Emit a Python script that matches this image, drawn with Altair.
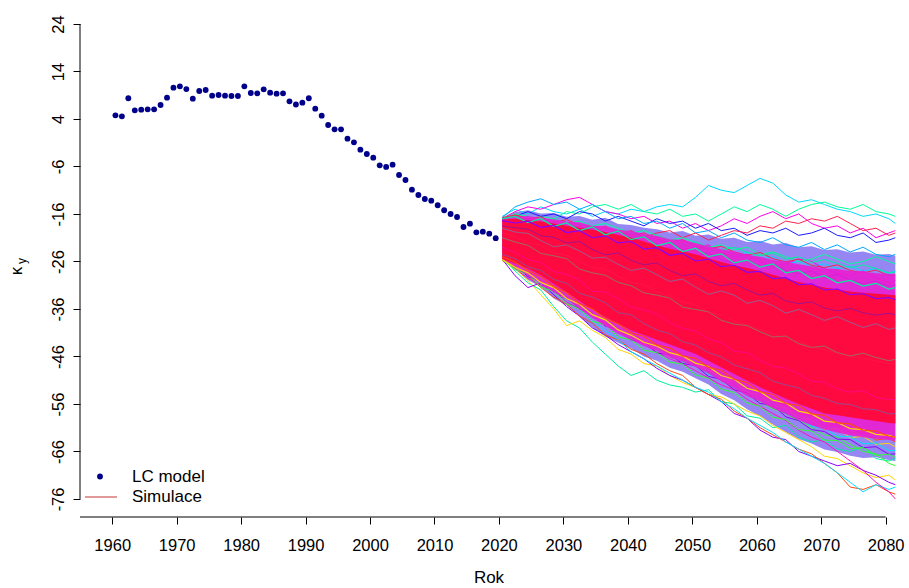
import altair as alt
import pandas as pd

# ---------------- data ----------------
LC_YEARS = list(range(1960, 2020))
LC_VALUES = [4.77, 4.56, 8.36, 5.83, 5.97, 6.04, 6.04, 6.95, 8.49, 10.6,
             10.88, 10.3, 8.28, 9.9, 10.1, 8.91, 9.05, 8.91, 8.84, 8.84,
             10.88, 9.47, 9.4, 10.25, 9.54, 9.33, 9.4, 7.72, 7.05, 7.44,
             8.36, 6.18, 4.7, 2.74, 1.83, 1.83, -0.15, -0.91, -2.46, -3.37,
             -4.14, -5.75, -6.1, -5.61, -7.79, -8.84, -10.88, -12.0, -12.84, -13.2,
             -14.17, -15.22, -16.0, -16.63, -18.74, -18.04, -19.86, -19.72, -20.14, -21.1]

SIM_YEARS = list(range(2020, 2081, 2)) + [2081]

# density bands of the simulated paths (outer mixed colours, magenta, red core)
MIX_HI = [-16.8, -15.6, -15.2, -15.9, -15.8, -16.6, -16.4, -17.2, -16.8, -18.1, -18.3, -18.9, -19.2, -19.9, -19.6, -20.6,
          -20.3, -21.2, -21.0, -21.9, -21.7, -22.4, -22.1, -23.0, -22.8, -23.6, -23.4, -24.1, -23.9, -24.6, -24.4, -24.8]
MIX_LO = [-25.8, -27.6, -29.9, -31.4, -33.8, -35.2, -37.6, -39.9, -41.8, -43.1, -44.3, -46.0, -46.9, -48.4, -49.2, -50.6,
          -51.9, -53.9, -55.2, -57.1, -58.6, -60.3, -61.9, -63.4, -64.3, -65.6, -66.1, -66.9, -67.4, -67.2, -67.8, -68.0]
MAG_HI = [-17.0, -16.6, -16.4, -16.9, -17.1, -17.6, -17.8, -18.5, -18.6, -19.3, -19.6, -20.2, -20.6, -21.3, -21.5, -22.1,
          -22.8, -23.4, -23.9, -24.6, -25.0, -25.7, -26.0, -26.6, -27.0, -27.5, -27.6, -28.0, -28.1, -28.5, -28.6, -28.8]
MAG_LO = [-25.6, -27.2, -29.0, -30.6, -32.5, -34.0, -36.0, -37.9, -39.6, -41.2, -42.5, -43.8, -44.8, -46.2, -47.1, -48.2,
          -49.6, -51.2, -52.7, -54.3, -55.5, -56.9, -58.1, -59.4, -60.5, -61.4, -62.0, -62.6, -63.0, -63.3, -63.6, -63.8]
RED_HI = [-17.2, -17.0, -17.3, -17.6, -18.0, -18.5, -18.9, -19.3, -19.8, -20.4, -21.0, -21.8, -22.6, -23.3, -23.9, -24.5,
          -25.3, -26.1, -26.8, -27.4, -28.0, -28.8, -29.6, -30.3, -30.9, -31.5, -31.9, -32.3, -32.6, -32.8, -33.0, -33.1]
RED_LO = [-25.5, -26.4, -27.5, -28.9, -30.7, -32.5, -34.3, -36.1, -37.7, -39.1, -40.5, -41.5, -42.5, -43.5, -44.5, -45.5,
          -46.9, -48.3, -49.7, -51.1, -52.5, -53.7, -54.9, -56.0, -57.0, -58.0, -58.4, -58.8, -59.2, -59.6, -60.0, -60.1]

# individual simulated paths (estimated); outer fringe + transition zones
OUTER = {
    "T1": ("#00D8FF", [-16.5, -15, -16, -14.5, -15.5, -16, -15, -16.5, -15.5, -16, -15, -15.5, -14.5, -14, -14.5, -12.5,
                       -10, -11, -11.5, -10, -8.5, -9.5, -12, -13.5, -13, -14, -15, -15.5, -16.5, -16, -17, -18]),
    "T2": ("#FF00E6", [-17, -15.5, -14.5, -15, -14, -13, -12.5, -14, -15.5, -16, -17, -16.5, -18, -17.5, -19, -18,
                       -19.5, -18.5, -17, -18, -16.5, -15.5, -17, -16, -18, -19, -18.5, -20, -19, -21, -20, -19.5]),
    "T3": ("#00FF9A", [-17.5, -16, -17.5, -16.5, -17, -15.5, -16, -14.5, -14, -15, -14, -15.5, -16, -15, -16.5, -16,
                       -17.5, -16, -14.5, -15.5, -14, -15, -16.5, -15, -14, -13.5, -14.5, -15, -14, -15.5, -16, -16.5]),
    "T4": ("#1A1AFF", [-17, -16.5, -15.5, -16.5, -16, -17, -15.5, -16, -17.5, -16.5, -17.5, -18.5, -17, -18, -17.5, -19,
                       -18, -19.5, -19, -20.5, -19.5, -20, -19, -20.5, -20, -19, -20.5, -21, -20, -22, -21.5, -21]),
    "T5": ("#00A8FF", [-16.8, -14.5, -13.5, -12.8, -14, -13.5, -15, -14, -15.5, -17, -16.5, -18, -17.5, -19, -18, -20,
                       -19.5, -21, -20, -21.5, -22, -21, -22.5, -23, -22, -23.5, -22.5, -24, -23, -24.5, -25, -24.5]),
    "T6": ("#FF2050", [-17.2, -16.2, -17, -18, -17.5, -19, -18.5, -20, -19, -20.5, -19.5, -21, -20, -19.5, -21, -20,
                       -21.5, -20.5, -19.5, -20, -18.5, -19, -17.5, -18, -17, -17.5, -16.5, -18, -19.5, -19, -20.5, -20]),
    "B1": ("#00F0A0", [-25, -28, -30.5, -32, -35.5, -38.5, -40, -43, -45.5, -48, -50, -49, -51, -52, -52.5, -53.5,
                       -53, -55.5, -56, -58.5, -59, -61, -60.5, -63, -64, -63.5, -65.5, -66, -65, -67.5, -68, -67.5]),
    "B2": ("#FFD700", [-25.5, -27.5, -30, -33, -36, -39.5, -38.5, -40.5, -42, -44.5, -45.5, -47.5, -48, -50, -51.5, -52.5,
                       -54, -54.5, -56, -57.5, -58.5, -60.5, -62, -63.5, -65, -67, -67.5, -69, -70.5, -71.5, -71, -72]),
    "B3": ("#8A00FF", [-25.5, -29, -31.5, -30.5, -33, -35.5, -37.5, -40, -41.5, -43.5, -45, -46.5, -48.5, -50, -51, -52.5,
                       -54, -55.5, -58, -59, -61.5, -63, -63.5, -66, -67, -68, -69, -68.5, -70, -71, -72.5, -73]),
    "B4": ("#FF4A10", [-25.8, -27, -29, -31.5, -33.5, -35, -37.5, -39, -41.5, -42.5, -44.5, -45.5, -47.5, -49, -50, -52.5,
                       -54, -55, -57.5, -59, -61, -62.5, -64, -65.5, -66.5, -68.5, -70.5, -73.5, -74, -73, -74.5, -75]),
    "B5": ("#00E0FF", [-25.2, -26.5, -28.5, -30, -32.5, -34, -36, -38.5, -40.5, -42.5, -45, -46.5, -48, -49.5, -51, -52.5,
                       -53.5, -55.5, -57, -59, -60.5, -62, -64, -65.5, -67, -68.5, -70.5, -72.5, -74.5, -73, -74, -73.5]),
    "B6": ("#FF10C0", [-25, -27.5, -29.5, -31, -32, -34.5, -36, -37, -39, -40.5, -42, -43.5, -45, -46.5, -47.5, -49,
                       -50.5, -52, -53, -55, -56.5, -58, -59.5, -61.5, -63, -64, -66, -68, -70, -72.5, -74.5, -76]),
    "B7": ("#30FF30", [-24.5, -26, -28, -29.5, -31, -33, -34, -36, -37.5, -39.5, -41, -42.5, -44, -45.5, -47, -48,
                       -49.5, -51, -52.5, -54, -55.5, -57, -58, -59.5, -61, -62.5, -63, -64.5, -66, -66.5, -68.5, -69]),
}
INNER = {
    "U1": ("#0026FF", [-17.5, -17, -18, -17.5, -18.5, -18, -19.5, -19, -20.5, -20, -21.5, -21, -22.5, -22, -23, -22.5,
                       -24, -23.5, -25, -24, -25.5, -25, -26.5, -26, -27, -26.5, -27.5, -27, -28, -27.5, -28.5, -28]),
    "U2": ("#7A00FF", [-18, -17.5, -17, -18, -18.5, -19.5, -19, -20, -21, -20.5, -22, -21.5, -21, -22.5, -23.5, -23,
                       -22.5, -24, -25, -24.5, -26, -27, -26.5, -25.5, -26, -27.5, -28.5, -29, -28, -29.5, -30.5, -30]),
    "U3": ("#00C8FF", [-17, -16, -16.5, -17.5, -17, -18, -17.5, -18.5, -18, -19, -20, -19.5, -20.5, -21.5, -21, -22,
                       -23, -22.5, -23.5, -23, -24.5, -24, -25, -26, -25.5, -24.5, -25.5, -26.5, -26, -25, -26, -26.5]),
    "U4": ("#22FF44", [-17.2, -17.8, -17.3, -18.6, -18.2, -19, -20.3, -19.8, -20.8, -21.9, -21.2, -22.5, -23.6, -23, -24.2, -24.9,
                       -24.2, -25.6, -26.4, -25.8, -27.1, -26.5, -27.9, -28.6, -28, -29.4, -28.7, -29.9, -30.6, -30.1, -31.2, -31]),
    "U5": ("#FF00FF", [-17.5, -18.5, -18, -19, -19.8, -20.6, -21.8, -21.2, -22.5, -23.2, -24.4, -23.8, -25.1, -26.3, -25.7, -27,
                       -27.8, -27.2, -28.5, -29.3, -28.7, -30, -31.1, -30.5, -31.7, -32.4, -31.8, -33, -33.9, -33.2, -34.3, -34]),
    "U6": ("#1450FF", [-16.8, -16.2, -17, -16.6, -17.8, -17.2, -18.3, -19.1, -18.6, -19.8, -20.5, -20, -21.3, -22, -21.4, -22.7,
                       -23.4, -22.8, -24, -24.7, -24.1, -25.4, -26.1, -25.5, -26.8, -27.3, -26.7, -27.9, -28.4, -27.8, -29, -28.8]),
    "U7": ("#B0FF00", [-17, -16.8, -17.6, -17.1, -18, -18.8, -18.2, -19.3, -20, -19.4, -20.2, -21, -20.6, -21.8, -22.4, -21.9,
                       -23, -23.6, -23, -24.1, -24.8, -24.3, -25.5, -25, -26.2, -25.6, -26.4, -27.3, -26.7, -27.5, -28.4, -28.2]),
    "L1": ("#0030FF", [-25.2, -27.1, -27.9, -30.2, -31.1, -33.8, -34.6, -37.2, -38.1, -40.6, -41, -43.4, -43.7, -45.6, -46.1, -47.9,
                       -48.5, -50.8, -51.2, -53.6, -54.1, -56.3, -56.8, -58.9, -59.2, -61.3, -61.1, -63.1, -62.8, -64.5, -64.3, -65]),
    "L2": ("#9000FF", [-25.5, -26.6, -29.2, -30, -32.4, -33.5, -36, -37, -39.6, -40.3, -42.6, -42.8, -45.3, -45.6, -47.5, -47.9,
                       -50.2, -50.8, -53, -53.7, -55.9, -56.2, -58.7, -59.5, -61.4, -61.8, -63.4, -63.5, -65.2, -65, -66.6, -66.5]),
    "L3": ("#00E8F0", [-25, -26.7, -27.5, -30, -30.6, -33.4, -34.1, -37, -37.5, -40, -40.6, -43, -43, -45.2, -45.3, -47.4,
                       -47.7, -50, -50.6, -52.8, -53.2, -55.7, -56, -58.2, -58.3, -60.4, -60.5, -62, -61.9, -63.6, -63.2, -64]),
    "L4": ("#40FF20", [-25.3, -26.5, -28.9, -29.7, -32.2, -33.2, -35.7, -36.6, -38.7, -39.8, -42.1, -42.6, -44.9, -45, -47.1, -47.4,
                       -49.8, -50.3, -52.4, -53.1, -55.4, -55.7, -58.1, -58.7, -60.7, -61.1, -62.8, -62.9, -64.4, -64.2, -65.8, -65.8]),
    "L5": ("#FF00D0", [-25.4, -26, -28.4, -28.9, -31.6, -32.4, -35.2, -35.8, -38.4, -39, -41.4, -41.5, -43.9, -44.2, -45.9, -46.4,
                       -48.7, -49.1, -51.3, -51.8, -54.2, -54.6, -56.5, -57.1, -59, -59.4, -60.8, -60.8, -62.3, -62.1, -63.4, -63.3]),
    "L6": ("#FFE000", [-25.6, -27.7, -28.7, -31.4, -32.3, -34.9, -36, -38.6, -39.3, -41.9, -42.5, -44.7, -45.2, -47.2, -47.6, -49.9,
                       -50.6, -52.9, -53.6, -55.8, -56.5, -58.8, -59.3, -61.4, -61.7, -63.6, -63.7, -65.4, -65.2, -66.8, -66.6, -67.2]),
}
CORE = {
    "C1": ("#FF00A0", [-19, -19.8, -20.1, -21.6, -22.9, -22.5, -23.8, -25.3, -25.1, -26.6, -27.9, -27.4, -28.8, -30.2, -29.7, -31.4,
                       -32.9, -32.2, -33.1, -34.8, -34.2, -35.3, -36.9, -36.1, -37.2, -38.4, -37.6, -38.8, -39.9, -39.1, -40.3, -40]),
    "C2": ("#D000FF", [-23, -24.1, -25.6, -26.2, -28.1, -28.7, -29.9, -32.3, -32.4, -33.8, -35.6, -36.2, -37.1, -38.9, -40.1, -40.6,
                       -42.3, -43.1, -44.9, -45.2, -46.8, -48.1, -48.4, -49.7, -51.2, -51.4, -52.8, -53.5, -53.2, -54.6, -55.1, -55]),
    "C3": ("#FF0080", [-21, -21.9, -22.6, -24.3, -24.8, -25.4, -27.6, -28.4, -28.9, -30.4, -31.1, -32.6, -33.1, -33.7, -35.6, -36.1,
                       -36.6, -38.4, -39.2, -39.5, -40.8, -41.9, -41.7, -43.3, -44.1, -43.8, -45.2, -45.9, -45.3, -46.2, -46.9, -46.6]),
    "C4": ("#C000FF", [-18.5, -18.9, -19.2, -20.6, -20.9, -22.1, -21.8, -23.5, -24.6, -24.2, -25.8, -26.7, -26.3, -27.9, -29, -28.6,
                       -30.2, -31.1, -30.6, -32, -33.1, -32.7, -34.3, -34.9, -34.5, -35.8, -36.4, -35.9, -36.8, -37.3, -36.9, -37.2]),
    "C5": ("#FF00D0", [-24.5, -25.4, -27.1, -27.9, -29.8, -30.6, -32.7, -33.5, -34.7, -36.8, -37.2, -39.1, -40.4, -41.2, -42.9, -43.6,
                       -45.2, -46.1, -47.8, -48.6, -49.4, -51.2, -52, -52.6, -54.2, -54.8, -55.9, -56.1, -57, -57.2, -58.1, -58]),
    "C6": ("#8000FF", [-20, -20.8, -22.1, -22.6, -24.2, -24.7, -26.1, -27.3, -27.6, -29.1, -30.5, -30.9, -32.4, -33.2, -34.5, -35.1,
                       -36.7, -37.2, -38.6, -39.3, -40.4, -41.1, -42.5, -42.8, -44, -44.6, -45.3, -46, -46.4, -46.9, -47.5, -47.5]),
}
TOP_RED = {
    "R1": ("#FF0030", [-17, -16.5, -17.8, -17, -18.6, -17.9, -19.5, -18.7, -20.4, -19.6, -21.4, -20.8, -22.7, -22, -23.9, -23.2,
                       -25, -24.4, -26.3, -25.7, -27.2, -26.5, -28.4, -27.9, -29.6, -29, -30.5, -30, -31.2, -30.6, -31.8, -31.5]),
    "R2": ("#FF0050", [-25.6, -27.2, -28.4, -30.4, -31.5, -33.8, -35, -37.2, -38.3, -40.4, -41.5, -43, -43.8, -45.2, -45.9, -47.4,
                       -48.1, -50, -50.8, -52.7, -53.4, -55.2, -55.8, -57.5, -58.1, -59.6, -59.9, -61.2, -61.4, -62.4, -62.6, -63]),
    "R3": ("#FF1040", [-17.4, -17.9, -17.5, -18.8, -18.4, -19.9, -19.5, -21, -20.6, -22.1, -21.8, -23.4, -23.1, -24.7, -24.3, -25.9,
                       -25.5, -27.1, -26.8, -28.3, -28.1, -29.6, -29.4, -30.9, -30.7, -32, -31.8, -33, -32.8, -33.8, -33.6, -34]),
    "R4": ("#FF0020", [-25, -26.1, -27.9, -29.2, -31.3, -32.6, -34.9, -36, -38, -39.1, -41, -41.8, -43.6, -44.2, -45.9, -46.4,
                       -48.3, -48.9, -50.8, -51.5, -53.4, -54, -55.9, -56.3, -58.1, -58.4, -60, -60.2, -61.5, -61.7, -62.8, -63]),
}

X_TICKS = list(range(1960, 2081, 10))
Y_TICKS = list(range(-76, 25, 10))


def long_table(groups):
    rows = []
    for name, (colr, vals) in groups.items():
        for yr, v in zip(SIM_YEARS, vals):
            rows.append({"path": name, "year": yr, "k": v})
    return pd.DataFrame(rows)


lc = pd.DataFrame({"year": LC_YEARS, "k": LC_VALUES})
bands = pd.DataFrame({"year": SIM_YEARS, "mix_hi": MIX_HI, "mix_lo": MIX_LO,
                      "mag_hi": MAG_HI, "mag_lo": MAG_LO, "red_hi": RED_HI, "red_lo": RED_LO})

FONT = "Liberation Sans"
W, H = 825, 512
xs = alt.Scale(domain=[1955, 2083], nice=False, zero=False)
ys = alt.Scale(domain=[-79.8, 28], nice=False, zero=False)
AX_X = alt.Axis(values=X_TICKS, format="d", title=None, domain=False, grid=False,
                tickSize=7, tickColor="black", tickWidth=1, labelFont=FONT, labelFontSize=16.5,
                labelColor="black", labelPadding=13, labelFlush=False)
AX_Y = alt.Axis(values=Y_TICKS, title=None, domain=False, grid=False,
                labelExpr="toString(datum.value)",
                tickSize=7, tickColor="black", tickWidth=1, labelFont=FONT, labelFontSize=16.5,
                labelColor="black", labelAngle=270, labelAlign="center", labelBaseline="alphabetic",
                labelPadding=10, labelFlush=False)


def X(field="xm"):
    return alt.X(f"{field}:Q", scale=xs, axis=AX_X)


def Y(field):
    return alt.Y(f"{field}:Q", scale=ys, axis=AX_Y)


def path_layer(groups, width=1.0, opacity=1.0):
    names = list(groups.keys())
    cols = [groups[n][0] for n in names]
    return alt.Chart(long_table(groups)).transform_calculate(xm="datum.year + 0.5").mark_line(
        strokeWidth=width, opacity=opacity).encode(
        x=X(), y=Y("k"), detail="path:N",
        color=alt.Color("path:N", scale=alt.Scale(domain=names, range=cols), legend=None))


xaxis_line = alt.Chart(pd.DataFrame({"a": [1955], "b": [2080]})).mark_rule(color="black", strokeWidth=1).encode(
    x=X("a"), x2="b:Q", y=alt.value(H))
yaxis_line = alt.Chart(pd.DataFrame({"a": [24], "b": [-76]})).mark_rule(color="black", strokeWidth=1).encode(
    y=Y("a"), y2="b:Q", x=alt.value(0))

bandbase = alt.Chart(bands).transform_calculate(xm="datum.year + 0.5")
mix_area = bandbase.mark_area(color="#6c58ee", opacity=0.72).encode(x=X(), y=Y("mix_hi"), y2="mix_lo")
mag_area = bandbase.mark_area(color="#ea1ed2", opacity=0.9).encode(x=X(), y=Y("mag_hi"), y2="mag_lo")
red_area = bandbase.mark_area(color="#ff0a40").encode(x=X(), y=Y("red_hi"), y2="red_lo")

outer_lines = path_layer(OUTER)
inner_lines = path_layer(INNER)
core_lines = path_layer(CORE, 1.0, 0.4)
red_lines = path_layer(TOP_RED, 1.2)

points = alt.Chart(lc).transform_calculate(xm="datum.year + 0.5").mark_circle(
    size=34, color="#00008B", opacity=1).encode(x=X(), y=Y("k"))

# legend drawn by hand, like R's legend()
leg_dot = alt.Chart(pd.DataFrame({"a": [0]})).mark_circle(size=34, color="#00008B", opacity=1).encode(
    x=alt.value(20), y=alt.value(471.5))
leg_line = alt.Chart(pd.DataFrame({"a": [0]})).mark_rule(color="#cd5555", strokeWidth=1.2).encode(
    x=alt.value(5), x2=alt.value(37), y=alt.value(492))
leg_t1 = alt.Chart(pd.DataFrame({"t": ["LC model"]})).mark_text(
    font=FONT, fontSize=17, align="left", baseline="middle", color="black").encode(
    x=alt.value(52), y=alt.value(471.5), text="t:N")
leg_t2 = alt.Chart(pd.DataFrame({"t": ["Simulace"]})).mark_text(
    font=FONT, fontSize=17, align="left", baseline="middle", color="black").encode(
    x=alt.value(52), y=alt.value(492), text="t:N")

xtitle = alt.Chart(pd.DataFrame({"t": ["Rok"]})).mark_text(
    font=FONT, fontSize=17, align="center", baseline="alphabetic", color="black").encode(
    x=alt.value(409), y=alt.value(578), text="t:N")
ytitle_k = alt.Chart(pd.DataFrame({"t": ["κ"]})).mark_text(
    font=FONT, fontSize=17, align="center", baseline="alphabetic", angle=270, color="black").encode(
    x=alt.value(-58), y=alt.value(266), text="t:N")
ytitle_sub = alt.Chart(pd.DataFrame({"t": ["y"]})).mark_text(
    font=FONT, fontSize=12, align="center", baseline="alphabetic", angle=270, color="black").encode(
    x=alt.value(-54), y=alt.value(256), text="t:N")

chart = alt.layer(
    mix_area, outer_lines, inner_lines, mag_area, red_area, core_lines, red_lines, points,
    xaxis_line, yaxis_line, leg_dot, leg_line, leg_t1, leg_t2, xtitle, ytitle_k, ytitle_sub
).properties(
    width=W, height=H,
    autosize=alt.AutoSizeParams(type="none"),
    padding={"left": 80, "top": 5, "right": 4, "bottom": 71},
    background="white",
).configure_view(stroke=None)

chart.save("out.html", embed_options={"renderer": "svg", "actions": False})
